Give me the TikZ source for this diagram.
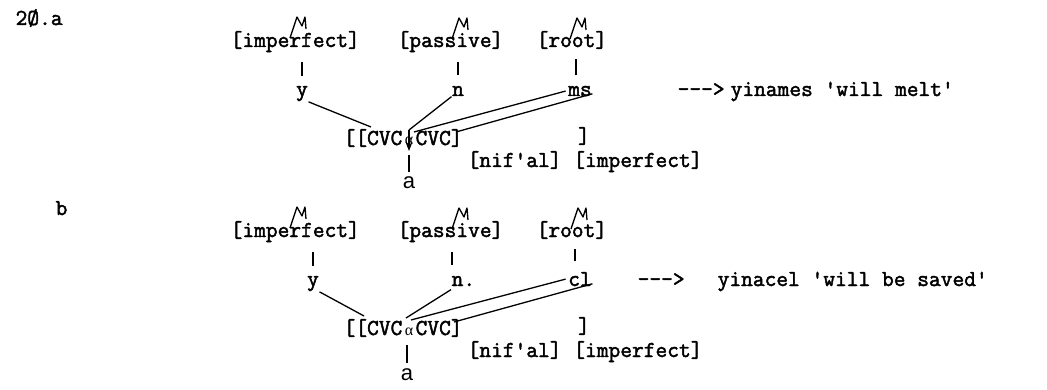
\documentclass[tikz,border=0pt]{standalone}
\usepackage{fontspec}
\setmainfont{Latin Modern Mono}[Ligatures=TeXOff,FakeBold=2]
\newfontfamily\handfont{Liberation Sans}
\newfontfamily\greekfont{Liberation Serif}
\usetikzlibrary{arrows.meta}
\def\melody(#1){\draw[line width=1.3pt,line join=round,shift={(#1)}] (-8,21) -- (-1,0) -- (4,9) -- (7,0) -- (8,12);}

\begin{document}
\begin{tikzpicture}[x=1pt,y=-1pt,line width=1.3pt,
	every node/.style={inner sep=0pt,font=\fontsize{22.8}{26}\selectfont},
	txt/.style={anchor=base west},
	seg/.style={anchor=base},
	tick/.style={line width=1.1pt,shorten <=10pt,shorten >=9pt}]
			%%%%% START %%%%%
			\useasboundingbox (0,0) rectangle (1047,390);
			\def\rowb{190}

			% 20.a
			\node[txt] (numA) at (15,25) {2Ø.a};
			\node[txt] (impA) at (230,47) {[imperfect]};
			\node[txt] (pasA) at (397,47) {[passive]};
			\node[txt] (rootA) at (536,47) {[root]};
			\melody(298,17)
			\melody(460,18)
			\melody(578,18)

			\node[seg] (yA) at (302,96) {y};
			\node[seg] (nA) at (458,96) {n};
			\node[seg] (msA) at (580,96) {ms};
			\node[txt] (arrA) at (677,96) {--->};
			\node[txt] (glA) at (730,96) {yinames 'will melt'};

			\node[txt] (cvlA) at (343,145) {[[CVC};
			\node[seg,font=\fontsize{16}{20}\greekfont] (alA) at (409,145) {α};
			\node[txt] (cvrA) at (415,145) {CVC]};
			\node[seg] (brA) at (584,143) {]};
			\node[txt] (nifA) at (467,167) {[nif'al] [imperfect]};
			\node[seg,font=\fontsize{22}{24}\handfont] (aA) at (409,189) {a};

			\coordinate (c1A) at (371,127);
			\coordinate (c2A) at (409,130);
			\coordinate (c3A) at (414,132);
			\coordinate (c4A) at (456,132);
			\coordinate (tipA) at (409,151);

			\draw[tick] (yA.north) -- (yA.north |- impA.south);
			\draw[tick] (nA.north) -- (nA.north |- pasA.south);
			\draw[tick] ([xshift=-4pt]msA.north) -- ([xshift=-4pt]msA.north |- rootA.south);
			\draw[tick,shorten <=5pt,shorten >=7pt] (aA.north) -- (aA.north |- cvlA.south);

			\draw (yA.south east) -- (c1A);
			\draw (nA.south west) -- (c2A);
			\draw[-{Stealth[length=9pt,width=7pt]}] (c2A) -- (tipA);
			\draw ([xshift=-2pt]msA.west) -- (c3A);
			\draw ([yshift=3pt]msA.south east) -- (c4A);

			% b
			\node[txt] (numB) at (55,215) {b};
			\node[txt] (impB) at (230,\rowb+47) {[imperfect]};
			\node[txt] (pasB) at (397,\rowb+47) {[passive]};
			\node[txt] (rootB) at (536,\rowb+47) {[root]};
			\melody(298,\rowb+17)
			\melody(460,\rowb+18)
			\melody(579,\rowb+18)

			\node[seg] (yB) at (313,\rowb+96) {y};
			\node[txt] (nB) at (451,\rowb+96) {n.};
			\node[seg] (clB) at (580,\rowb+96) {cl};
			\node[txt] (arrB) at (637,\rowb+96) {--->};
			\node[txt] (glB) at (717,\rowb+96) {yinacel 'will be saved'};

			\node[txt] (cvlB) at (343,\rowb+145) {[[CVC};
			\node[seg,font=\fontsize{16}{20}\greekfont] (alB) at (409,\rowb+145) {α};
			\node[txt] (cvrB) at (415,\rowb+145) {CVC]};
			\node[seg] (brB) at (584,\rowb+143) {]};
			\node[txt] (nifB) at (467,\rowb+167) {[nif'al] [imperfect]};
			\node[seg,font=\fontsize{22}{24}\handfont] (aB) at (407,\rowb+190) {a};

			\coordinate (c1B) at (364,\rowb+126);
			\coordinate (c2B) at (406,\rowb+128);
			\coordinate (c3B) at (411,\rowb+130);
			\coordinate (c4B) at (454,\rowb+132);

			\draw[tick] (yB.north) -- (yB.north |- impB.south);
			\draw[tick] ([xshift=1pt]nB.north west) -- ([xshift=1pt]nB.north west |- pasB.south);
			\draw[tick] ([xshift=-5pt]clB.north) -- ([xshift=-5pt]clB.north |- rootB.south);
			\draw[tick,shorten <=5pt,shorten >=7pt] (aB.north) -- (aB.north |- cvlB.south);

			\draw (yB.south east) -- (c1B);
			\draw ([yshift=-3pt]nB.south west) -- (c2B);
			\draw ([xshift=-2pt]clB.west) -- (c3B);
			\draw ([yshift=3pt]clB.south east) -- (c4B);
			%%%%% END %%%%%
\end{tikzpicture}
\end{document}
